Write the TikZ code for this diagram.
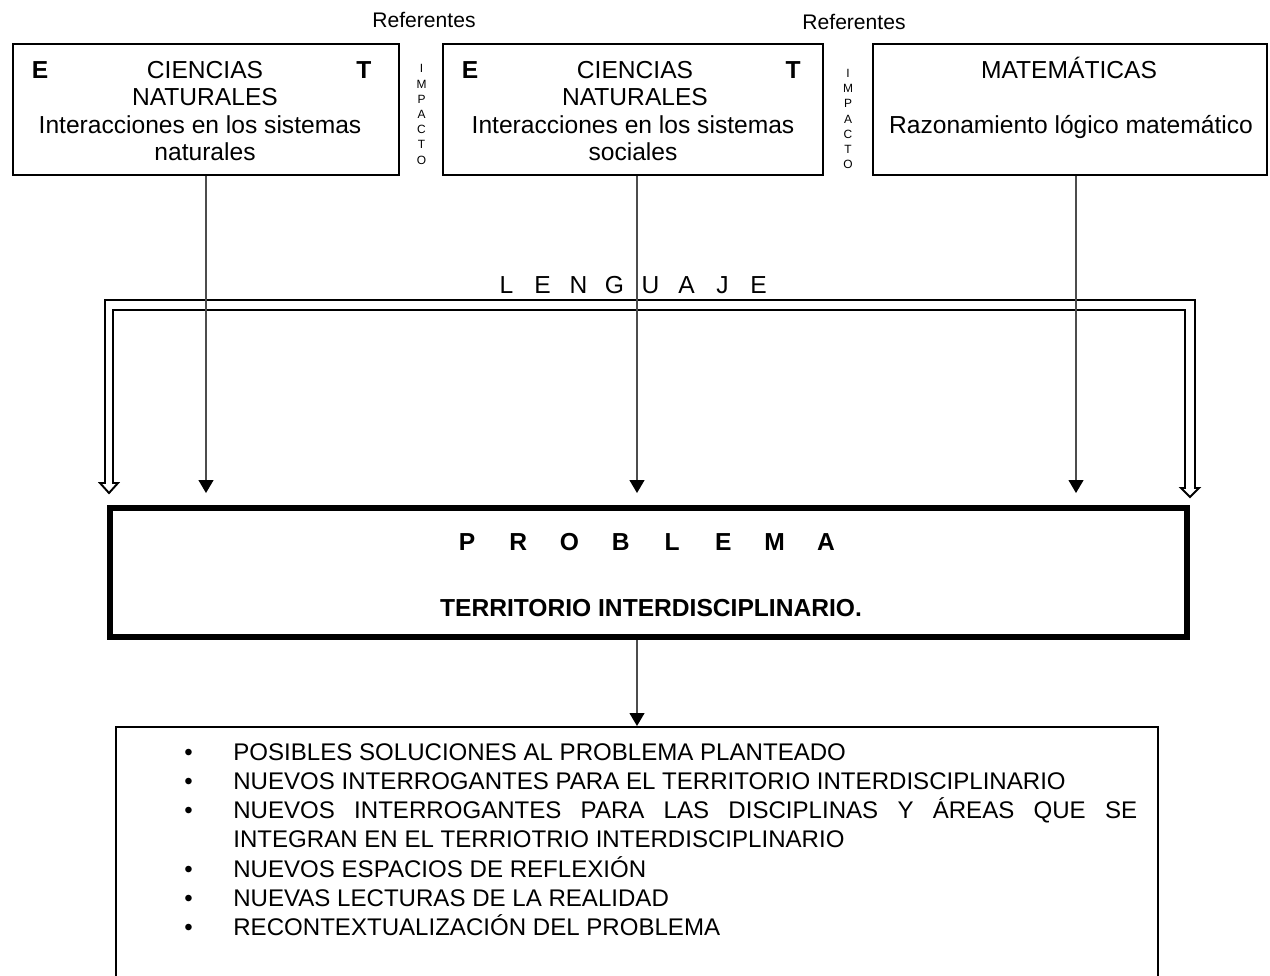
\documentclass[tikz,border=0pt]{standalone}
\usepackage{fontspec}
\setmainfont{Liberation Sans}
\usetikzlibrary{arrows.meta}
\hyphenpenalty=10000
\exhyphenpenalty=10000
\tolerance=9999
\begin{document}
\begin{tikzpicture}[x=0.02cm,y=-0.02cm,
  topbox/.style={draw, line width=1.1pt, minimum height=2.62cm, inner sep=0pt},
  txt/.style={font=\fontsize{14}{15.5}\selectfont, inner sep=0pt, anchor=base},
  bl/.style={font=\fontsize{14}{15.5}\selectfont\bfseries, inner sep=0pt, anchor=base},
  ref/.style={font=\fontsize{12}{14}\selectfont, inner sep=0pt, anchor=base},
  imp/.style={font=\fontsize{6.8}{8.65}\selectfont, align=center, inner sep=0pt},
  conn/.style={draw=black!70, line width=0.8pt, -{Triangle[width=8.5pt,length=7.4pt,black]}},
  bar/.style={draw, line width=1.1pt, line join=miter}
]
\useasboundingbox (0,0) rectangle (1270,976);
\clip (0,0) rectangle (1270,976);

% Referentes / impacto
\node[ref] (ref1) at (424,27.5) {Referentes};
\node[ref] (ref2) at (854,29.5) {Referentes};
\node[imp] (imp1) at (421.5,114.5) {I\\M\\P\\A\\C\\T\\O};
\node[imp] (imp2) at (848,119) {I\\M\\P\\A\\C\\T\\O};

% Box 1
\node[topbox, minimum width=7.72cm] (b1) at (206,109.5) {};
\node[txt] (b1a) at (205,78.5) {CIENCIAS};
\node[txt] (b1b) at (205,105.8) {NATURALES};
\node[txt] (b1c) at (200,133.1) {Interacciones en los sistemas};
\node[txt] (b1d) at (205,160.4) {naturales};
\node[bl] (b1e) at (40,78.5) {E};
\node[bl] (b1t) at (364,78.5) {T};

% Box 2
\node[topbox, minimum width=7.6cm] (b2) at (633,109.5) {};
\node[txt] (b2a) at (635,78.5) {CIENCIAS};
\node[txt] (b2b) at (635,105.8) {NATURALES};
\node[txt] (b2c) at (633,133.1) {Interacciones en los sistemas};
\node[txt] (b2d) at (633,160.4) {sociales};
\node[bl] (b2e) at (470,78.5) {E};
\node[bl] (b2t) at (793,78.5) {T};

% Box 3
\node[topbox, minimum width=7.88cm] (b3) at (1070,109.5) {};
\node[txt] (b3a) at (1069,78.5) {MATEMÁTICAS};
\node[txt] (b3b) at (1071,133.1) {Razonamiento lógico matemático};

% Lenguaje bar (double-line block arrow)
\draw[bar] (105,483) -- (105,300) -- (1195,300) -- (1195,488) -- (1199,488) -- (1190,497)
  -- (1181,488) -- (1185,488) -- (1185,310) -- (113,310) -- (113,483) -- (118,483)
  -- (109,493) -- (100,483) -- cycle;
\node[txt] (leng) at (632.5,294) {\makebox[0.72cm]{L}\makebox[0.72cm]{E}\makebox[0.72cm]{N}\makebox[0.72cm]{G}\makebox[0.72cm]{U}\makebox[0.72cm]{A}\makebox[0.72cm]{J}\makebox[0.72cm]{E}};

% Problema box
\node[draw, line width=3.4pt, minimum width=21.54cm, minimum height=2.58cm, inner sep=0pt] (prob) at (648.5,572.5) {};
\node[bl] (probt) at (646.5,550) {\makebox[1.026cm]{P}\makebox[1.026cm]{R}\makebox[1.026cm]{O}\makebox[1.026cm]{B}\makebox[1.026cm]{L}\makebox[1.026cm]{E}\makebox[1.026cm]{M}\makebox[1.026cm]{A}};
\node[bl] (terr) at (651,616) {TERRITORIO INTERDISCIPLINARIO.};

% Result box (bottom open beyond page)
\node[draw, line width=0.9pt, minimum width=20.84cm, minimum height=6.2cm, inner sep=0pt, anchor=north] (res) at (637,726) {};
\node[inner sep=0pt, anchor=base west, font=\fontsize{13.7}{16.45}\selectfont] (list) at (184,760.5) {%
\begin{tabular}[t]{@{}p{0.98cm}@{}p{18.08cm}@{}}
\textbullet & POSIBLES SOLUCIONES AL PROBLEMA PLANTEADO\\
\textbullet & NUEVOS INTERROGANTES PARA EL TERRITORIO INTERDISCIPLINARIO\\
\textbullet & NUEVOS INTERROGANTES PARA LAS DISCIPLINAS Y ÁREAS QUE SE\linebreak INTEGRAN EN EL TERRIOTRIO INTERDISCIPLINARIO\\
\textbullet & NUEVOS ESPACIOS DE REFLEXIÓN\\
\textbullet & NUEVAS LECTURAS DE LA REALIDAD\\
\textbullet & RECONTEXTUALIZACIÓN DEL PROBLEMA
\end{tabular}};

% Connectors
\draw[conn, shorten >=0.24cm] (b1.south) -- (b1.south |- prob.north);
\draw[conn, shorten >=0.24cm] (res.north |- b2.south) -- (res.north |- prob.north);
\draw[conn, shorten >=0.24cm] ([xshift=0.12cm]b3.south) -- ([xshift=0.12cm]b3.south |- prob.north);
\draw[conn] (prob.south -| res.north) -- (res.north);
\end{tikzpicture}
\end{document}
